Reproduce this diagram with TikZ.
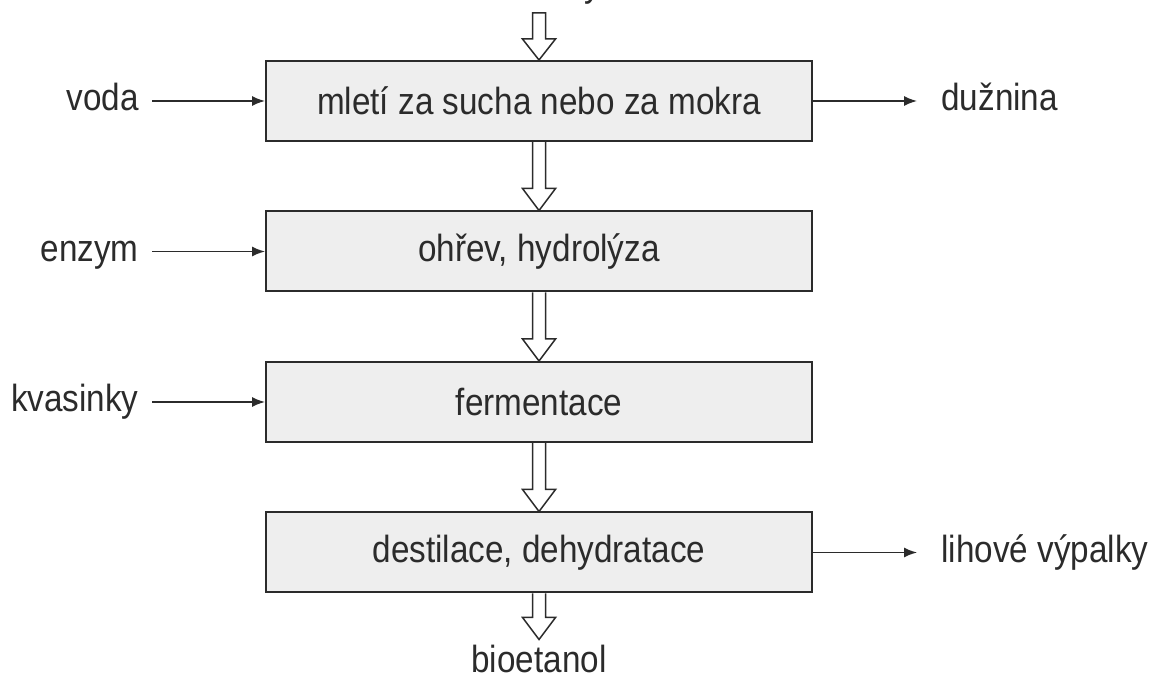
\documentclass[tikz,border=0pt]{standalone}
\usepackage{fontspec}
\setmainfont{Liberation Sans}[FakeStretch=0.88]
\usetikzlibrary{arrows.meta, calc, positioning}
\definecolor{boxgray}{HTML}{EEEEEE}
\definecolor{inkgray}{HTML}{2B2B2B}
\tikzstyle{line} = [draw=inkgray, line width=0.75pt, -{Latex[length=6.5pt,width=5pt]}]
\tikzstyle{block} = [rectangle, draw=inkgray, fill=boxgray, line width=1pt, text centered, minimum width=273pt, minimum height=40pt]
\tikzstyle{fat} = [draw=inkgray, line width=0.75pt, line join=miter]
\tikzstyle{inlabel} = [inner xsep=6.5pt, inner ysep=0pt, text height=14pt, text depth=4pt]
\tikzstyle{outlabel} = [inner xsep=12pt, inner ysep=0pt, text height=14pt, text depth=4pt]
% hollow arrow between two points
\newcommand{\fatarrow}[2]{%
  \draw[fat] ($#1+(-3.25pt,0)$) -- ($#2+(-3.25pt,11pt)$) -- ++(-5pt,0) -- #2
    -- ++(8.25pt,11pt) -- ++(-5pt,0) -- ($#1+(3.25pt,0)$);}

\begin{document}
\begin{tikzpicture}[node distance=34.25pt, font=\fontsize{18.9pt}{22pt}\selectfont, text=inkgray]
\useasboundingbox (0,0) rectangle (576.5pt,-339.5pt);
\node [block] (mleti) at (269.5pt,-50.5pt) {mletí za sucha nebo za mokra};
\node [block, below=of mleti] (ohrev) {ohřev, hydrolýza};
\node [block, below=of ohrev] (fermentace) {fermentace};
\node [block, below=of fermentace] (destilace) {destilace, dehydratace};
\node [inlabel, left=56.5pt of mleti] (voda) {voda};
\node [inlabel, left=56.5pt of ohrev] (enzym) {enzym};
\node [inlabel, left=56.5pt of fermentace] (kvasinky) {kvasinky};
\node [outlabel, right=52pt of mleti] (duznina) {dužnina};
\node [outlabel, right=52pt of destilace] (vypalky) {lihové výpalky};
\node [anchor=base] (suroviny) at (269.5pt,1.5pt) {suroviny};
\coordinate (vstup) at (269.5pt,-6.5pt);
\coordinate [below=23pt of destilace] (etanoltip);
\node [inner sep=0pt, below=2.5pt of etanoltip] (bioetanol) {bioetanol};
\path [line] (voda) -- (mleti);
\path [line] (enzym) -- (ohrev);
\path [line] (kvasinky) -- (fermentace);
\path [line] (mleti) -- (duznina);
\path [line] (destilace) -- (vypalky);
\draw [fat] ($(vstup)+(3.25pt,0)$) -- ($(vstup)+(-3.25pt,0)$) -- ($(mleti.north)+(-3.25pt,10.5pt)$)
  -- ++(-5pt,0) -- (mleti.north) -- ++(8.25pt,10.5pt) -- ++(-5pt,0) -- cycle;
\fatarrow{(mleti.south)}{(ohrev.north)}
\fatarrow{(ohrev.south)}{(fermentace.north)}
\fatarrow{(fermentace.south)}{(destilace.north)}
\fatarrow{(destilace.south)}{(etanoltip)}
\end{tikzpicture}
\end{document}
